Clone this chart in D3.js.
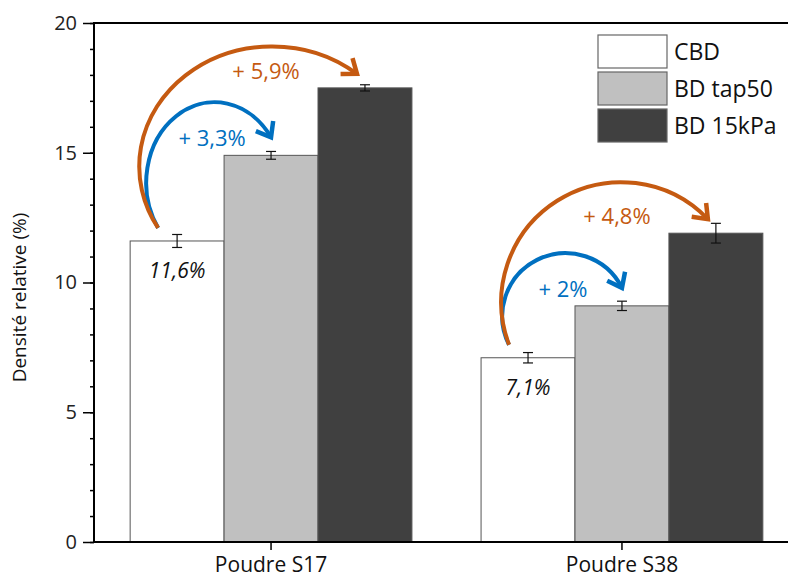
<!DOCTYPE html>
<html>
<head>
<meta charset="utf-8">
<script src="https://d3js.org/d3.v7.min.js"></script>
<style>
  body { margin: 0; background: #fff; }
  text { font-family: "Open Sans", sans-serif; }
</style>
</head>
<body>
<div id="chart"></div>
<script>
// data
const groups = ["Poudre S17", "Poudre S38"];
const series = ["CBD", "BD tap50", "BD 15kPa"];
const values = [[11.6, 14.9, 17.5], [7.1, 9.1, 11.9]];
const errors = [[0.25, 0.15, 0.12], [0.2, 0.18, 0.38]];
const yTicks = [0, 5, 10, 15, 20];
const baseLabels = ["11,6%", "7,1%"];
// gain arrows: group, target series, label
const gains = [
    {g: 0, to: 1, label: "+ 3,3%"},
    {g: 0, to: 2, label: "+ 5,9%"},
    {g: 1, to: 1, label: "+ 2%"},
    {g: 1, to: 2, label: "+ 4,8%"}
];

const W = 788, H = 580;
const plotLeft = 94, plotTop = 23, plotBottom = 542;
const fills = ["#ffffff", "#c0c0c0", "#404040"];
const orange = "#c55a11", blue = "#0070c0";

const svg = d3.select("#chart").append("svg")
    .attr("width", W)
    .attr("height", H);

const y = d3.scaleLinear().domain([0, 20]).range([plotBottom, plotTop]);

const x0 = d3.scaleBand()
    .domain(groups)
    .range([plotLeft, 799])
    .paddingInner(0.197)
    .paddingOuter(0.103);

const x1 = d3.scaleBand()
    .domain(series)
    .range([0, x0.bandwidth()]);

function barCenter(g, s) {
    return x0(groups[g]) + x1(series[s]) + x1.bandwidth() / 2;
}

// bars
const gBars = svg.selectAll(".grp")
    .data(values)
    .join("g")
    .attr("class", "grp")
    .attr("transform", (d, i) => `translate(${x0(groups[i])},0)`);

gBars.selectAll("rect")
    .data(d => d)
    .join("rect")
    .attr("x", (d, i) => x1(series[i]))
    .attr("y", d => y(d))
    .attr("width", x1.bandwidth())
    .attr("height", d => y(0) - y(d))
    .attr("fill", (d, i) => fills[i])
    .attr("stroke", "#555")
    .attr("stroke-width", 1);

// error bars
values.forEach(function(row, g) {
    row.forEach(function(v, s) {
        const cx = barCenter(g, s);
        const e = errors[g][s];
        const eb = svg.append("g").attr("stroke", "#111").attr("stroke-width", 1.2);
        eb.append("line").attr("x1", cx).attr("x2", cx).attr("y1", y(v + e)).attr("y2", y(v - e));
        eb.append("line").attr("x1", cx - 5).attr("x2", cx + 5).attr("y1", y(v + e)).attr("y2", y(v + e));
        eb.append("line").attr("x1", cx - 5).attr("x2", cx + 5).attr("y1", y(v - e)).attr("y2", y(v - e));
    });
});

// axes
const yAxis = d3.axisLeft(y).tickValues(yTicks).tickSize(11).tickPadding(6);
const yMinor = d3.axisLeft(y).tickValues(d3.range(0, 21, 1)).tickSize(4).tickFormat("");

svg.append("g")
    .attr("transform", `translate(${plotLeft},0)`)
    .call(yMinor)
    .call(g => g.select(".domain").remove())
    .selectAll("line").attr("stroke-width", 1.5);

const ya = svg.append("g")
    .attr("transform", `translate(${plotLeft},0)`)
    .call(yAxis);
ya.select(".domain").remove();
ya.selectAll("line").attr("stroke-width", 1.5);
ya.selectAll("text").attr("font-size", 20).attr("fill", "#222")
    .style("font-family", "'Open Sans', sans-serif");

const xa = svg.append("g")
    .attr("transform", `translate(0,${plotBottom})`)
    .call(d3.axisBottom(x0).tickSize(8).tickPadding(7));
xa.select(".domain").remove();
xa.selectAll("line").attr("stroke-width", 1.5);
xa.selectAll("text").attr("font-size", 21).attr("fill", "#111")
    .style("font-family", "'Open Sans', sans-serif");

// frame lines
svg.append("line").attr("x1", plotLeft).attr("x2", W).attr("y1", plotBottom).attr("y2", plotBottom)
    .attr("stroke", "#000").attr("stroke-width", 2);
svg.append("line").attr("x1", plotLeft).attr("x2", W).attr("y1", plotTop).attr("y2", plotTop)
    .attr("stroke", "#000").attr("stroke-width", 2);
svg.append("line").attr("x1", plotLeft).attr("x2", plotLeft).attr("y1", plotTop - 1).attr("y2", plotBottom + 1)
    .attr("stroke", "#000").attr("stroke-width", 2);

svg.append("text")
    .attr("transform", `translate(26,${(plotTop + plotBottom) / 2 + 15}) rotate(-90)`)
    .attr("text-anchor", "middle")
    .attr("font-size", 19)
    .attr("fill", "#111")
    .text("Densité relative (%)");

// base value labels (italic, inside CBD bars)
baseLabels.forEach(function(t, g) {
    svg.append("text")
        .attr("x", barCenter(g, 0))
        .attr("y", y(values[g][0]) + 37)
        .attr("text-anchor", "middle")
        .attr("font-size", 21)
        .attr("font-style", "italic")
        .attr("fill", "#111")
        .text(t);
});

// arrow markers
const defs = svg.append("defs");
[["o", orange], ["b", blue]].forEach(function(m) {
    defs.append("marker")
        .attr("id", "arr-" + m[0])
        .attr("viewBox", "-16 -12 20 24")
        .attr("markerWidth", 20)
        .attr("markerHeight", 24)
        .attr("markerUnits", "userSpaceOnUse")
        .attr("orient", "auto")
        .append("path")
        .attr("d", "M-13,-10 L0,0 L-13,10")
        .attr("fill", "none")
        .attr("stroke", m[1])
        .attr("stroke-width", 4.5)
        .attr("stroke-linejoin", "miter");
});

// arc radii (rx, ry) for each arrow
const arcR = [[68, 80], [133, 120], [60, 60], [120, 120]];

gains.forEach(function(a, i) {
    const isOrange = a.to === 2;
    const col = isOrange ? orange : blue;
    const xs = barCenter(a.g, 0) - 19, ys = y(values[a.g][0]) - 13;
    const xe = barCenter(a.g, a.to) - (isOrange ? 8 : 0);
    const ye = y(values[a.g][a.to]) - (isOrange ? 14 : 18);
    svg.append("path")
        .attr("d", `M${xs},${ys} A${arcR[i][0]},${arcR[i][1]} 0 0,1 ${xe},${ye}`)
        .attr("fill", "none")
        .attr("stroke", col)
        .attr("stroke-width", 4)
        .attr("marker-end", `url(#arr-${isOrange ? "o" : "b"})`);
    svg.append("text")
        .attr("x", (barCenter(a.g, 0) + barCenter(a.g, a.to)) / 2 - (isOrange ? 5 : 12))
        .attr("y", y(values[a.g][a.to]) - 9)
        .attr("text-anchor", "middle")
        .attr("font-size", 22)
        .attr("fill", col)
        .text(a.label);
});

// legend
const lg = svg.append("g").attr("transform", "translate(598,35)");
series.forEach(function(s, i) {
    lg.append("rect")
        .attr("x", 0).attr("y", i * 37)
        .attr("width", 69).attr("height", 33)
        .attr("fill", fills[i])
        .attr("stroke", "#666").attr("stroke-width", 1.2);
    lg.append("text")
        .attr("x", 76).attr("y", i * 37 + 25)
        .attr("font-size", 23)
        .attr("fill", "#111")
        .text(s);
});
</script>
</body>
</html>
